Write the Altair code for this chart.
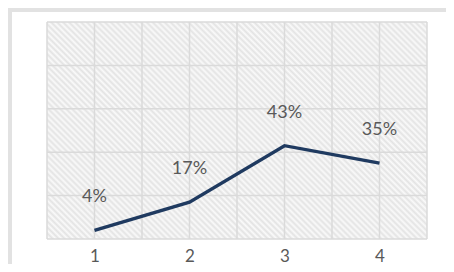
import altair as alt
import pandas as pd

categories = [1, 2, 3, 4]
values = [0.04, 0.17, 0.43, 0.35]
x_grid = [0.5, 1, 1.5, 2, 2.5, 3, 3.5, 4, 4.5]
y_grid = [0, 0.2, 0.4, 0.6, 0.8, 1.0]

df = pd.DataFrame({"cat": categories, "val": values})
xg = pd.DataFrame({"g": x_grid})
yg = pd.DataFrame({"g": y_grid})

W, H = 380, 217
xs = alt.Scale(domain=[0.5, 4.5], nice=False, zero=False)
ys = alt.Scale(domain=[0, 1], nice=False)

x_axis = alt.Axis(
    values=categories, format="d", grid=False, ticks=False, domain=False,
    labelFont="Lato", labelFontSize=17, labelColor="#595959",
    labelPadding=9, labelBaseline="top", title=None,
)

# diagonal hatch as a striped linear gradient (style only)
n = 100
stops = []
for i in range(n):
    stops.append({"offset": i / n, "color": "#e3e3e3"})
    stops.append({"offset": (i + 0.5) / n, "color": "#fafafa"})
stops.append({"offset": 1, "color": "#e3e3e3"})
hatch_fill = {"gradient": "linear", "stops": stops,
              "x1": 0, "y1": 1, "x2": 1.185, "y2": 0.323}

frame_top = alt.Chart(df).mark_rule(
    color="#e2e2e2", strokeWidth=4, clip=False
).encode(
    x=alt.value(-39), x2=alt.value(W + 80), y=alt.value(-12),
)
frame_left = alt.Chart(df).mark_rule(
    color="#e2e2e2", strokeWidth=4, clip=False
).encode(
    x=alt.value(-37), y=alt.value(-14), y2=alt.value(H + 90),
)

hatch = alt.Chart(df).mark_rect(fill=hatch_fill).encode(
    x=alt.value(0), x2=alt.value(W),
    y=alt.value(0), y2=alt.value(H),
)

vgrid = alt.Chart(xg).mark_rule(color="#dadada", strokeWidth=1.5).encode(
    x=alt.X("g:Q", scale=xs, axis=x_axis)
)
hgrid = alt.Chart(yg).mark_rule(color="#dadada", strokeWidth=1.5).encode(
    y=alt.Y("g:Q", scale=ys, axis=None)
)

line = alt.Chart(df).mark_line(color="#1f3a60", strokeWidth=3.4).encode(
    x=alt.X("cat:Q", scale=xs, axis=x_axis),
    y=alt.Y("val:Q", scale=ys, axis=None),
)

labels = alt.Chart(df).mark_text(
    dy=-33, font="Lato", fontSize=18, color="#595959"
).encode(
    x=alt.X("cat:Q", scale=xs, axis=x_axis),
    y=alt.Y("val:Q", scale=ys, axis=None),
    text=alt.Text("val:Q", format=".0%")
)

chart = alt.layer(frame_top, frame_left, hatch, vgrid, hgrid, line, labels).properties(
    width=W, height=H,
    autosize=alt.AutoSizeParams(type="none"),
    padding={"left": 39, "top": 14, "right": 19, "bottom": 25},
).configure_view(stroke=None)

chart.save("out.html", embed_options={"renderer": "svg", "actions": False})
